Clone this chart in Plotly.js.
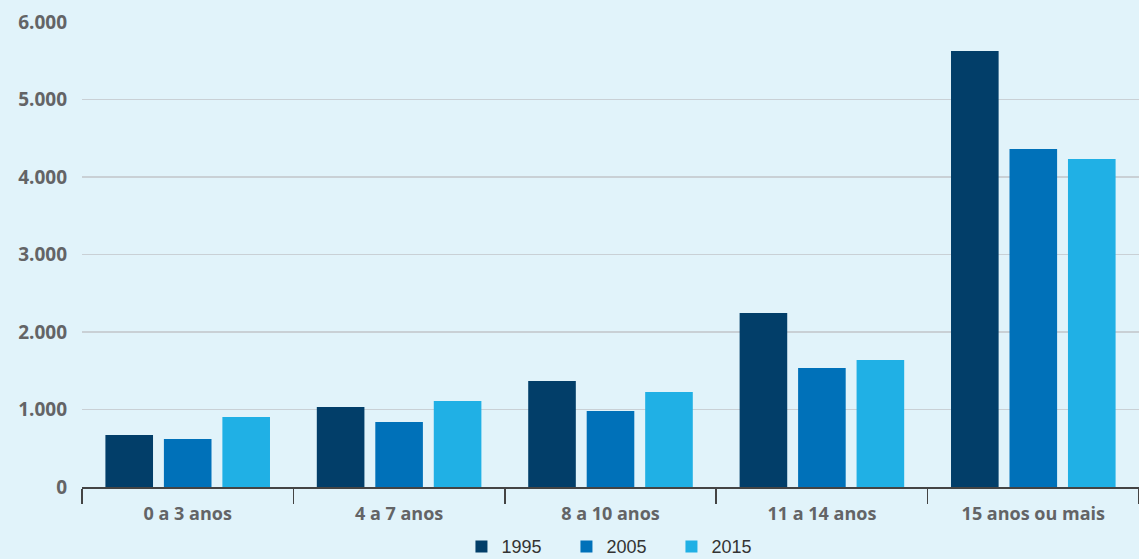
<!DOCTYPE html>
<html>
<head>
<meta charset="utf-8">
<script src="https://cdn.plot.ly/plotly-3.0.1.min.js"></script>
<style>html,body{margin:0;padding:0;background:#e1f3fa;}</style>
</head>
<body>
<div id="chart" style="width:1139px;height:559px;"></div>
<script>
const categories = ["0 a 3 anos", "4 a 7 anos", "8 a 10 anos", "11 a 14 anos", "15 anos ou mais"];
const seriesNames = ["1995", "2005", "2015"];
const values1995 = [671, 1032, 1368, 2245, 5626];
const values2005 = [619, 839, 981, 1535, 4361];
const values2015 = [903, 1110, 1226, 1639, 4232];
const yTickVals = [0, 1000, 2000, 3000, 4000, 5000, 6000];
const yTickText = ["0", "1.000", "2.000", "3.000", "4.000", "5.000", "6.000"];
const colors = ["#023e69", "#0071b9", "#20b0e5"];

const allValues = [values1995, values2005, values2015];
const traces = allValues.map((v, i) => ({
  type: "bar",
  name: seriesNames[i],
  x: categories,
  y: v,
  marker: {color: colors[i]},
  hoverinfo: "x+y"
}));

const layout = {
  width: 1139,
  height: 559,
  paper_bgcolor: "#e1f3fa",
  plot_bgcolor: "#e1f3fa",
  margin: {l: 82, r: 0, t: 22, b: 72},
  barmode: "group",
  bargap: 0.17,
  bargroupgap: 0.186,
  font: {family: "Open Sans, sans-serif", color: "#636466"},
  xaxis: {
    type: "category",
    tickson: "boundaries",
    ticks: "outside",
    ticklen: 15,
    tickwidth: 1.5,
    tickcolor: "#444",
    showline: true,
    linecolor: "#444",
    linewidth: 1.5,
    showgrid: false,
    zeroline: false,
    automargin: false,
    ticklabelstandoff: 10,
    tickfont: {family: "Open Sans, sans-serif", size: 18, color: "#636466", weight: "bold"}
  },
  yaxis: {
    range: [0, 6000],
    tickvals: yTickVals,
    ticktext: yTickText,
    showgrid: true,
    gridcolor: "#c9d0d5",
    gridwidth: 1.5,
    zeroline: false,
    ticks: "",
    automargin: false,
    ticklabelstandoff: 14,
    tickfont: {family: "Open Sans, sans-serif", size: 19, color: "#636466", weight: "bold"}
  },
  showlegend: true,
  legend: {
    orientation: "h",
    x: 0.508,
    xanchor: "center",
    xref: "paper",
    yref: "container",
    y: 0.055,
    yanchor: "top",
    font: {family: "Liberation Sans, Arial, sans-serif", size: 18, color: "#333333"},
    itemwidth: 30,
    entrywidth: 60,
    entrywidthmode: "pixels",
    traceorder: "normal",
    bgcolor: "rgba(0,0,0,0)"
  }
};

Plotly.newPlot("chart", traces, layout, {displayModeBar: false, staticPlot: true});
</script>
</body>
</html>
